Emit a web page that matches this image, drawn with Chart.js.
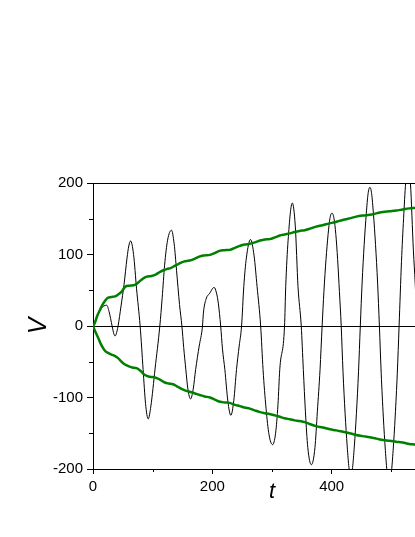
<!DOCTYPE html>
<html><head><meta charset="utf-8">
<script src="https://cdn.jsdelivr.net/npm/chart.js@4"></script>
<style>
html,body{margin:0;padding:0;background:#fff;overflow:hidden;width:415px;height:537px}
#wrap{position:absolute;left:0;top:0;width:470px;height:537px}
</style>
</head><body><div id="wrap"><canvas id="c" width="470" height="537"></canvas></div>
<script>
// Oscillating signal V(t)
const tSignal = [0,6,12,18,23,27,32,35,37,39,42,47,52,57,60,63,68,73,79,84,88,92.5,97,104,112,116,120,125,131.5,136,140,145,149,152,155.6,159,163.5,168,172,178,183.5,185,190,195,203,207,210,214,217,221,226,231,236,240.5,245,249,252.7,257,264,270,275,281,285,290,295,301,306,310,313,321,323,327,334,339,343.6,349,352.5,356,360,366,372,376,380.5,384,387,390.5,394,397,400.5,404,407,410,413,416,419,422.5,426,429,432,435,438,441.5,445,448,451,454.5,458,461,464,467,470,473.5,477,480,483,486.5,490,493,496.5,500,503,506.5,510,513,517,520.5,524,528,532,537,540,543,547,552,558,564,569,573,578,583,589,595,600];
const vSignal = [0,12,22,28,29,20,0,-11,-14,-11,0,28,58,95,112,119,100,52,0,-61,-108,-130,-112,-60,0,40,85,120,134,115,78,30,0,-30,-61,-88,-102,-88,-61,-28,0,18,39,45,54,46,32,0,-32,-61,-105,-125,-104,-61,-28,0,55,95,121,98,55,0,-61,-115,-152,-166,-150,-110,-61,0,55,120,172,140,55,0,-61,-120,-170,-194,-170,-120,-61,0,48,93,128,150,158,150,128,93,48,0,-64,-122,-168,-198,-208,-198,-168,-122,-64,0,60,114,157,185,194,185,157,114,60,0,-66,-126,-174,-205,-215,-205,-174,-126,-66,0,90,150,200,228,200,105,60,0,-80,-170,-235,-170,-80,0,100,200,245,200,100];

// Upper envelope
const tUpper = [0,3,7,12,16,20,25,31,37,42,48,52,56,63,70,76,84,90,98,105,112,118,125,130,137,145,152,162,170,178,185,196,204,212,220,229,237,246,254,263,271,280,288,296,305,313,321,330,338,346,355,363,374,385,396,405,413,420,430,441,452,464,475,486,497,508,519,530,541,555,570,585,600];
const vUpper = [0,4,14,23,30,35,39.5,40.5,41.5,44,48,53,56,56.5,57.5,61,66.5,69,70,72,75.5,78,80,81,84,87.5,90,91.5,94,97,98.5,99.5,102,105,106,106.5,109,112,114,115,117,119.5,121,121.5,124,126.5,128,129.5,131.5,133,134,136,139,141,143.5,145,147,148.5,150.5,153,154.5,155.5,157.5,159.5,160.5,161.5,163,164.5,165.5,167.5,169,171,172];

// Lower envelope
const tLower = [0,4,9,13,17,21,26,31,37,42,48,53,59,66,73,80,87,95,104,112,120.5,127,134,140,146,154,162,170,179,187,196,204,213,221,229,237,246,254,263,271,280,288,296,305,313,321,330,338,346,355,363,374,385,397,408,419,430,441,452,464,475,486,497,508,519,530,541,555,570,585,600];
const vLower = [0,-8,-17,-25,-31,-35.5,-38,-40,-42,-45,-50,-53.5,-56,-58,-59,-63,-68.5,-71,-72,-75,-79,-80.5,-81.5,-84,-87,-90,-92,-94,-96.5,-98.5,-100,-103,-106,-107,-107.5,-110,-112,-114,-115.5,-118,-120.5,-122,-123,-125,-127,-129,-130.5,-132,-133,-134.5,-137,-140,-142,-144.5,-146,-148,-150,-152.4,-154,-155.7,-157.5,-159.4,-160.5,-161.8,-163,-165,-166,-168,-169.5,-171,-172];

const xTickLabels = [0, 200, 400, 600];
const yTickLabels = [-200, -100, 0, 100, 200];
const xTitle = 't';
const yTitle = 'V';

const pts = (ts, vs) => ts.map((t, i) => ({x: t, y: vs[i]}));
const GREEN = '#008000';
const tickFont = {family: "'Liberation Sans', Arial, sans-serif", size: 15};

const framePlugin = {
  id: 'frame',
  afterDraw(chart) {
    const {ctx, chartArea: a, scales: {x, y}} = chart;
    ctx.save();
    ctx.strokeStyle = '#000';
    ctx.lineWidth = 1;
    ctx.beginPath();
    ctx.moveTo(a.left, Math.round(a.top) + 0.5);
    ctx.lineTo(a.right, Math.round(a.top) + 0.5);
    ctx.moveTo(Math.round(a.right) + 0.5, a.top);
    ctx.lineTo(Math.round(a.right) + 0.5, a.bottom);
    // minor ticks
    for (let v = -150; v <= 150; v += 100) {
      const py = Math.round(y.getPixelForValue(v)) + 0.5;
      ctx.moveTo(a.left - 4, py); ctx.lineTo(a.left, py);
    }
    for (let v = 100; v < 600; v += 200) {
      const px = Math.round(x.getPixelForValue(v)) + 0.5;
      ctx.moveTo(px, a.bottom); ctx.lineTo(px, a.bottom + 3);
    }
    ctx.stroke();
    // axis titles
    ctx.fillStyle = '#000';
    ctx.textAlign = 'center';
    ctx.textBaseline = 'middle';
    ctx.font = "italic 22px 'Liberation Sans', Arial, sans-serif";
    ctx.fillText(xTitle, (a.left + a.right) / 2, 492);
    ctx.translate(39, (a.top + a.bottom) / 2);
    ctx.rotate(-Math.PI / 2);
    ctx.font = "italic 25px 'Liberation Sans', Arial, sans-serif";
    ctx.fillText(yTitle, 0, 0);
    ctx.restore();
  }
};

new Chart(document.getElementById('c'), {
  type: 'line',
  data: {
    datasets: [
      {data: pts(tUpper, vUpper), borderColor: GREEN, borderWidth: 2.5, pointRadius: 0, tension: 0.4, order: 0},
      {data: pts(tLower, vLower), borderColor: GREEN, borderWidth: 2.5, pointRadius: 0, tension: 0.4, order: 0},
      {data: pts(tSignal, vSignal), borderColor: '#000', borderWidth: 1, pointRadius: 0, cubicInterpolationMode: 'monotone', order: 1}
    ]
  },
  options: {
    responsive: false,
    animation: false,
    devicePixelRatio: 1,
    layout: {padding: {top: 183, right: 19, left: 0, bottom: 0}},
    plugins: {legend: {display: false}, tooltip: {enabled: false}},
    scales: {
      x: {
        type: 'linear', min: 0, max: 600,
        afterFit: s => { s.height = 68; },
        ticks: {stepSize: 100, autoSkip: false, maxRotation: 0, padding: 4, color: '#000', font: tickFont,
          callback: v => xTickLabels.includes(v) ? String(v) : ''},
        grid: {drawOnChartArea: false, drawTicks: true, tickLength: 5, tickWidth: 1,
          tickColor: c => xTickLabels.includes(c.tick && c.tick.value) ? '#000' : 'rgba(0,0,0,0)'},
        border: {display: true, color: '#000', width: 1}
      },
      y: {
        type: 'linear', min: -200, max: 200,
        afterFit: s => { s.width = 93; },
        ticks: {stepSize: 50, autoSkip: false, padding: 4, color: '#000', font: tickFont,
          callback: v => yTickLabels.includes(v) ? String(v) : ''},
        grid: {drawOnChartArea: true, drawTicks: true, tickLength: 6, tickWidth: 1, lineWidth: 1,
          color: c => (c.tick && c.tick.value === 0) ? '#000' : 'rgba(0,0,0,0)',
          tickColor: c => yTickLabels.includes(c.tick && c.tick.value) ? '#000' : 'rgba(0,0,0,0)'},
        border: {display: true, color: '#000', width: 1}
      }
    }
  },
  plugins: [framePlugin]
});
</script>
</body></html>
